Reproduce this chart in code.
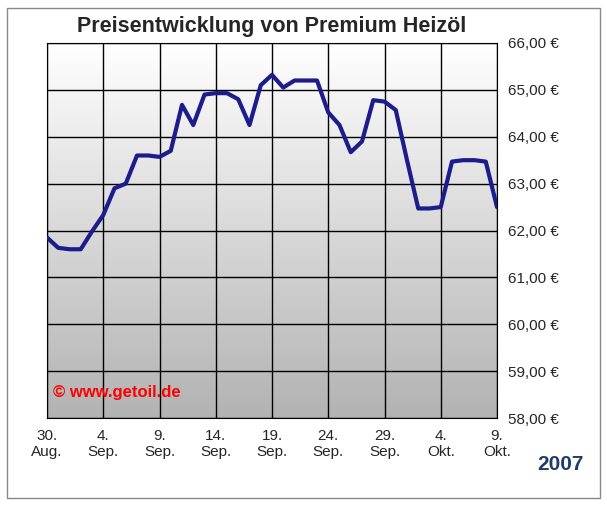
import numpy as np, pandas as pd, seaborn as sns, matplotlib
matplotlib.use("Agg")
import matplotlib.pyplot as plt
from matplotlib.patches import Rectangle

days = list(range(41))
prices = [61.85,61.63,61.6,61.6,61.98,62.33,62.9,63.0,63.6,63.6,63.57,63.7,64.68,64.25,64.9,64.93,64.93,64.8,64.25,65.1,65.32,65.05,65.2,65.2,65.2,64.52,64.25,63.67,63.9,64.78,64.75,64.57,63.5,62.47,62.47,62.5,63.47,63.5,63.5,63.47,62.5]
tick_days = [0,5,10,15,20,25,30,35,40]
tick_labels = ["30.\nAug.","4.\nSep.","9.\nSep.","14.\nSep.","19.\nSep.","24.\nSep.","29.\nSep.","4.\nOkt.","9.\nOkt."]
yticks = [58,59,60,61,62,63,64,65,66]

sns.set_style("white")
plt.rcParams['font.family'] = ['Liberation Sans', 'DejaVu Sans']
fig = plt.figure(figsize=(6.07,5.08), dpi=100)
ax = fig.add_axes([47/607, 1-418/508, 450/607, 375/508])
grad = np.linspace(1, 0.7, 256).reshape(-1,1)
ax.imshow(np.dstack([grad,grad,grad]), extent=[0,40,58,66], aspect='auto', zorder=0)
df = pd.DataFrame({"day":days,"price":prices})
sns.lineplot(data=df, x="day", y="price", ax=ax, color="#1c1c8c", lw=3, zorder=3)
ax.set_xlim(0,40); ax.set_ylim(58,66)
ax.set_xticks(tick_days); ax.set_xticklabels(tick_labels, fontsize=11)
ax.set_yticks(yticks); ax.set_yticklabels([f"{v:.2f} €".replace(".",",") for v in yticks], fontsize=11)
ax.yaxis.tick_right()
ax.tick_params(length=0, pad=8)
ax.grid(True, color="black", lw=1, zorder=1)
ax.set_axisbelow(False)
for s in ax.spines.values(): s.set_color("black")
ax.set_xlabel(""); ax.set_ylabel("")
ax.set_title("Preisentwicklung von Premium Heizöl", fontsize=15.5, fontweight="bold", pad=8)
ax.text(0.5, 58.45, "© www.getoil.de", color="red", fontsize=12, fontweight="bold", zorder=4)
fig.text(560/607, 1-465/508, "2007", color="#1f3d6b", fontsize=15, fontweight="bold", ha="center", va="center")
fig.patches.append(Rectangle((0.012,0.02),0.976,0.965, transform=fig.transFigure, fill=False, ec="#888888", lw=1))
fig.savefig("out.png", dpi=100)
